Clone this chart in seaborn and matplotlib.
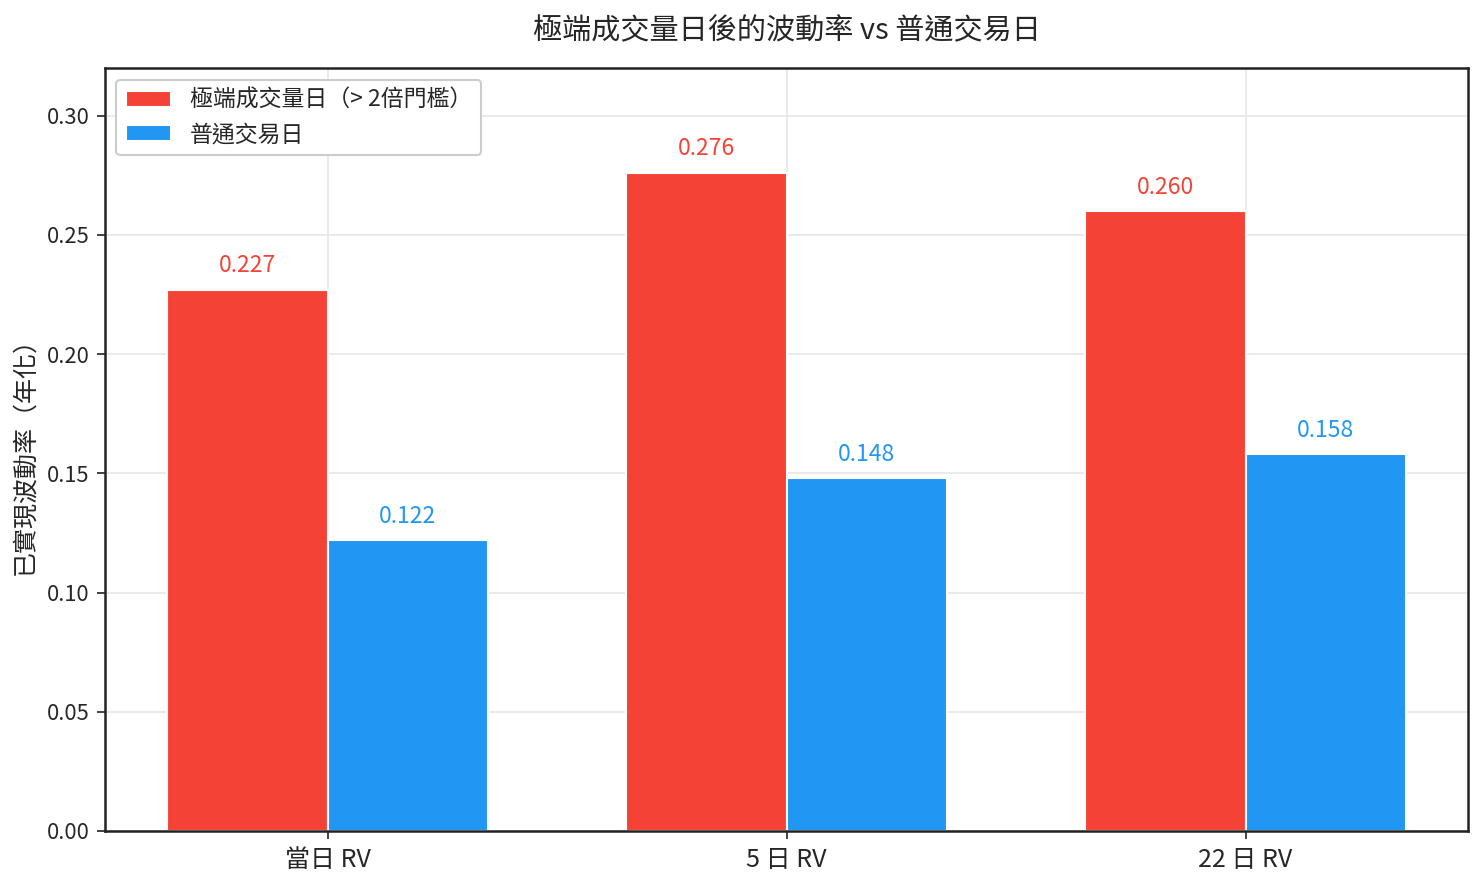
#!/usr/bin/env python3
'''grouped bar: realized vol after extreme-volume days vs normal days'''

import pandas as pd
import matplotlib
matplotlib.use('Agg')
import matplotlib.pyplot as plt
import seaborn as sns

# data
windows = ['當日 RV', '5 日 RV', '22 日 RV']
extreme_rv = [0.227, 0.276, 0.260]
normal_rv = [0.122, 0.148, 0.158]
groups = ['極端成交量日（> 2倍門檻）', '普通交易日']
colors = ['#F44336', '#2196F3']

df = pd.DataFrame({'window': windows, groups[0]: extreme_rv, groups[1]: normal_rv})
df_melt = pd.melt(df, id_vars=['window'], var_name='grp', value_name='rv')

sns.set_style('white')
plt.rcParams['font.family'] = ['Noto Sans CJK TC', 'DejaVu Sans']

fig, ax = plt.subplots(figsize=(1483/150, 884/150), dpi=150)
sns.barplot(data=df_melt, x='window', y='rv', hue='grp', palette=colors,
            width=0.7, gap=0, edgecolor='white', linewidth=1, saturation=1, ax=ax)

# value labels
for cont, col in zip(ax.containers, colors):
    for bar in cont:
        h = bar.get_height()
        ax.annotate(f'{h:.3f}', (bar.get_x() + bar.get_width()/2, h),
                    xytext=(0, 6), textcoords='offset points',
                    ha='center', va='bottom', fontsize=11, color=col)

ax.set_xlim(-0.485, 2.485)
ax.set_ylim(0, 0.32)
ax.set_title('極端成交量日後的波動率 vs 普通交易日', fontsize=14, pad=14)
ax.set_xlabel('')
ax.set_ylabel('已實現波動率（年化）', fontsize=12)
ax.tick_params(axis='x', labelsize=12, length=4, color='#222222', bottom=True)
ax.tick_params(axis='y', labelsize=10.5, length=4, color='#222222', left=True)
ax.grid(True, color='#e6e6e6', linewidth=0.8)
ax.set_axisbelow(True)
for s in ax.spines.values():
    s.set_color('#222222')
    s.set_linewidth(1.2)
ax.legend(loc='upper left', fontsize=11, handlelength=2.0, handleheight=0.7,
          frameon=True, edgecolor='#cccccc', framealpha=1, title=None)

plt.subplots_adjust(left=0.0708, right=0.99, top=0.923, bottom=0.06)
plt.savefig('out.png', dpi=150)
